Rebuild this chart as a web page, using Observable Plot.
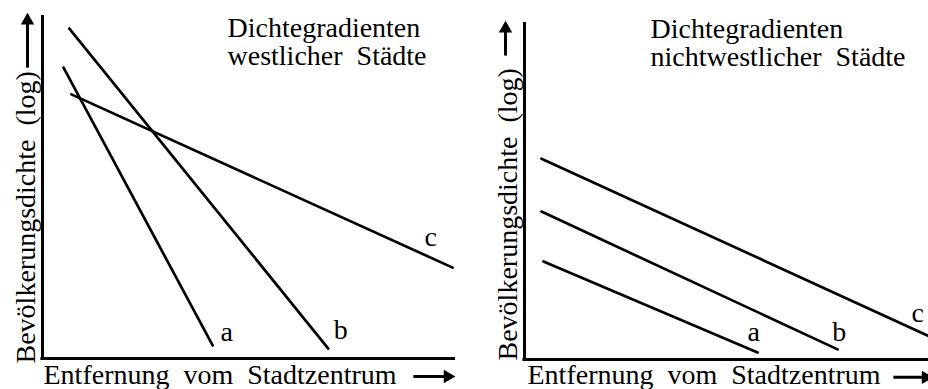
<!DOCTYPE html>
<html><head><meta charset="utf-8">
<script src="https://cdn.jsdelivr.net/npm/d3@7"></script>
<script src="https://cdn.jsdelivr.net/npm/@observablehq/plot@0.6"></script>
<style>
body{margin:0;background:#fff;}
#wrap{display:flex;width:928px;height:389px;overflow:hidden;background:#fff;}
#wrap svg{display:block;flex:none;font-family:"Liberation Serif","DejaVu Serif",serif !important;}
#wrap svg text{font-family:"Liberation Serif","DejaVu Serif",serif !important;}
</style></head><body><div id="wrap"></div>
<script>
// series names
const series = ["a", "b", "c"];
// western cities: start and end points (distance from centre, log density), 0..100 scale
const westX0 = [5.1, 6.5, 7.0];
const westY0 = [84.8, 96.2, 77.0];
const westX1 = [41.2, 69.2, 99.3];
const westY1 = [3.8, 2.9, 26.5];
const westLabelX = [43.1, 70.5, 92.5];
const westLabelY = [5.2, 5.8, 32.9];
// non-western cities
const nonwestX0 = [4.7, 4.2, 4.2];
const nonwestY0 = [29.1, 43.9, 59.6];
const nonwestX1 = [57.7, 77.5, 100];
const nonwestY1 = [2.1, 3.0, 7.0];
const nonwestLabelX = [55.2, 76.2, 95.8];
const nonwestLabelY = [5.6, 5.6, 11.0];
// texts
const titleWest = ["Dichtegradienten", "westlicher  Städte"];
const titleNonwest = ["Dichtegradienten", "nichtwestlicher  Städte"];
const xLabel = "Entfernung  vom  Stadtzentrum";
const yLabel = "Bevölkerungsdichte  (log)";

const FONT = "Liberation Serif";
const FS = 28;

function segs(x0, y0, x1, y1) {
  const out = [];
  series.forEach((s, i) => {
    out.push({series: s, x: x0[i], y: y0[i]});
    out.push({series: s, x: x1[i], y: y1[i]});
  });
  return out;
}
function labels(lx, ly) {
  return series.map((s, i) => ({series: s, x: lx[i], y: ly[i]}));
}

function panel(cfg) {
  const lines = segs(cfg.x0, cfg.y0, cfg.x1, cfg.y1);
  const t = {fontSize: FS, fontFamily: FONT, fill: "#000"};
  return Plot.plot({
    width: 464, height: 389,
    marginLeft: cfg.ml, marginRight: cfg.mr, marginTop: cfg.mt, marginBottom: cfg.mb,
    x: {domain: [0, 100], axis: null},
    y: {domain: [0, 100], axis: null},
    style: {background: "#fff", color: "#000"},
    marks: [
      Plot.ruleX([0], {y1: 0, y2: 100, stroke: "#000", strokeWidth: 3}),
      Plot.ruleY([0], {x1: -0.4, x2: 100, stroke: "#000", strokeWidth: 3}),
      Plot.line(lines, {x: "x", y: "y", z: "series", stroke: "#000", strokeWidth: 2.7}),
      Plot.text(labels(cfg.lx, cfg.ly), {x: "x", y: "y", text: "series", textAnchor: "start", lineAnchor: "bottom", ...t}),
      Plot.text([cfg.title.join("\n")], {frameAnchor: "top-left", textAnchor: "start", lineAnchor: "top", lineHeight: 1, dx: cfg.tdx, dy: cfg.tdy, ...t}),
      Plot.text([xLabel], {frameAnchor: "bottom-left", textAnchor: "start", lineAnchor: "bottom", dx: cfg.xldx, dy: cfg.xldy, ...t}),
      Plot.text([yLabel], {frameAnchor: "bottom-left", rotate: -90, textAnchor: "start", lineAnchor: "bottom", dx: cfg.yldx, dy: cfg.yldy, ...t}),
      // axis-label arrows
      Plot.link([cfg.xa], {x1: "x1", x2: "x2", y1: "y", y2: "y", stroke: "#000", strokeWidth: 3}),
      Plot.dot([cfg.xa], {x: "x2", y: "y", symbol: "triangle", r: 5, rotate: 90, fill: "#000", stroke: "none"}),
      Plot.link([cfg.ya], {x1: "x", x2: "x", y1: "y1", y2: "y2", stroke: "#000", strokeWidth: 3}),
      Plot.dot([cfg.ya], {x: "x", y: "y2", symbol: "triangle", r: 5, fill: "#000", stroke: "none"})
    ]
  });
}

const wrap = document.getElementById("wrap");
wrap.appendChild(panel({
  x0: westX0, y0: westY0, x1: westX1, y1: westY1, lx: westLabelX, ly: westLabelY,
  ml: 42, mr: 9, mt: 15, mb: 31,
  title: titleWest, tdx: 185, tdy: 2,
  xldx: 1, xldy: 25, yldx: -8, yldy: 5,
  xa: {x1: 89.8, x2: 98.1, y: -5.25},
  ya: {x: -3.63, y1: 84.8, y2: 98.5}
}));
wrap.appendChild(panel({
  x0: nonwestX0, y0: nonwestY0, x1: nonwestX1, y1: nonwestY1, lx: nonwestLabelX, ly: nonwestLabelY,
  ml: 60, mr: 0, mt: 22, mb: 30,
  title: titleNonwest, tdx: 126, tdy: -4,
  xldx: 3, xldy: 24, yldx: -8, yldy: 1,
  xa: {x1: 91.3, x2: 99.3, y: -5.3},
  ya: {x: -4.7, y1: 90.2, y2: 98.2}
}));
</script>
</body></html>
